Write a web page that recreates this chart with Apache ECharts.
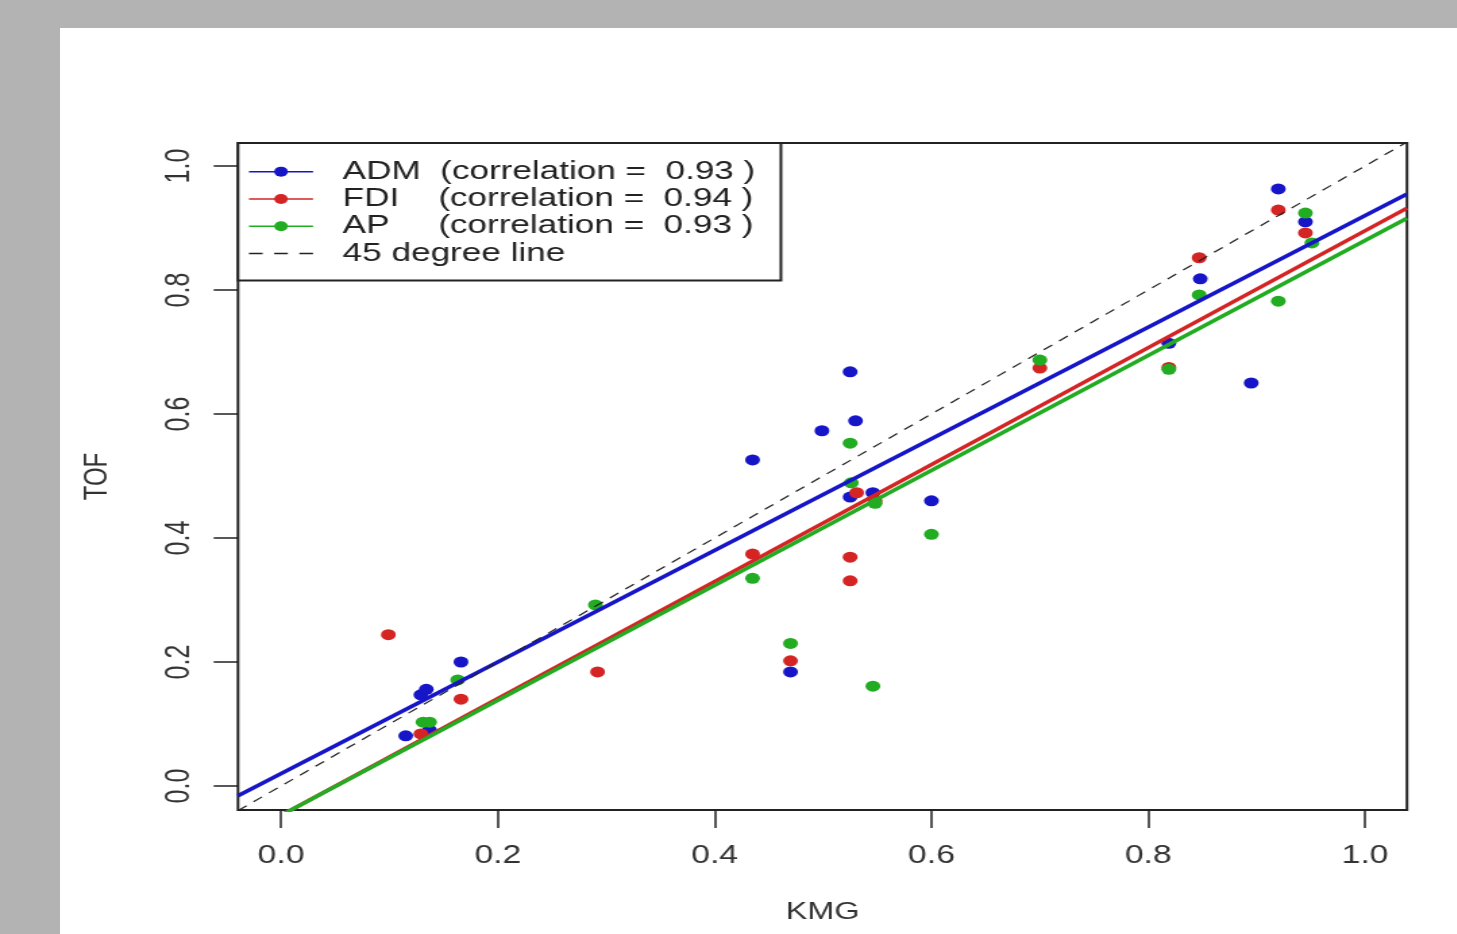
<!DOCTYPE html>
<html><head><meta charset="utf-8">
<script src="https://cdn.jsdelivr.net/npm/echarts@6/dist/echarts.min.js"></script>
<style>
html,body{margin:0;padding:0;width:1457px;height:934px;overflow:hidden;background:#b3b3b3;}
#panel{position:absolute;left:60px;top:28px;right:0;bottom:0;background:#fff;}
#chart{position:absolute;left:0;top:0;width:1080px;height:934px;transform:scaleX(1.35);transform-origin:0 0;}
</style></head><body>
<div id="panel"></div><div id="chart"></div>
<script>
// ---- data ----
const seriesNames = ['ADM  (correlation =  0.93 )', 'FDI    (correlation =  0.94 )', 'AP     (correlation =  0.93 )', '45 degree line'];
const tickValues = [0, 0.2, 0.4, 0.6, 0.8, 1.0];
const xRange = [-0.0397, 1.0387];
const yRange = [-0.0387, 1.0371];

const admX = [0.115, 0.129, 0.134, 0.137, 0.166, 0.435, 0.470, 0.499, 0.525, 0.530, 0.525, 0.546, 0.600, 0.819, 0.848, 0.895, 0.920, 0.945];
const admY = [0.081, 0.147, 0.156, 0.090, 0.200, 0.526, 0.184, 0.573, 0.668, 0.589, 0.466, 0.473, 0.460, 0.714, 0.818, 0.650, 0.963, 0.910];
const fdiX = [0.099, 0.129, 0.166, 0.292, 0.435, 0.470, 0.525, 0.525, 0.531, 0.548, 0.700, 0.819, 0.847, 0.920, 0.945];
const fdiY = [0.244, 0.084, 0.140, 0.184, 0.374, 0.202, 0.369, 0.331, 0.473, 0.460, 0.674, 0.675, 0.852, 0.929, 0.892];
const apX = [0.131, 0.137, 0.163, 0.290, 0.435, 0.470, 0.525, 0.526, 0.546, 0.548, 0.600, 0.700, 0.819, 0.847, 0.920, 0.945, 0.951];
const apY = [0.103, 0.103, 0.171, 0.292, 0.335, 0.230, 0.553, 0.489, 0.161, 0.456, 0.406, 0.687, 0.672, 0.792, 0.782, 0.924, 0.876];

// fitted regression lines: [intercept, slope]
const admFit = [0.020, 0.900];
const fdiFit = [-0.0474, 0.943];
const apFit = [-0.0472, 0.927];
const refLine = [0, 1];

const colors = ['#1616c8', '#d42424', '#22ac22', '#222222'];

// ---- build ----
const zip = (xs, ys) => xs.map((x, i) => [x, ys[i]]);
const fitLine = c => xRange.map(x => [x, c[0] + c[1] * x]);

const FONT = 'Liberation Sans';
const chart = echarts.init(document.getElementById('chart'));

const fitSeries = (name, coef, color) => ({
  type: 'line', name, data: fitLine(coef), color,
  symbol: 'circle', showSymbol: false, silent: true, z: 3,
  lineStyle: { width: 3.5, color }
});
const ptSeries = (name, xs, ys, color) => ({
  type: 'scatter', name, data: zip(xs, ys), color,
  symbol: 'circle', symbolSize: 11, silent: true, z: 2,
  itemStyle: { color, opacity: 1 }
});

const axisCommon = {
  axisLine: { show: false, onZero: false },
  splitLine: { show: false },
  axisTick: { show: true, inside: false, length: 18, customValues: tickValues, lineStyle: { color: '#222', width: 1.5 } }
};

chart.setOption({
  animation: false,
  backgroundColor: 'transparent',
  grid: { left: 176.3, top: 143, width: 865.9, height: 667, show: true, borderColor: '#222', borderWidth: 2, backgroundColor: 'transparent' },
  xAxis: Object.assign({
    type: 'value', min: xRange[0], max: xRange[1],
    name: 'KMG', nameLocation: 'middle', nameGap: 90,
    nameTextStyle: { fontFamily: FONT, fontSize: 24, color: '#333', lineHeight: 24 },
    axisLabel: { customValues: tickValues, formatter: v => v.toFixed(1), fontFamily: FONT, fontSize: 25, lineHeight: 25, color: '#333', margin: 34 }
  }, axisCommon),
  yAxis: Object.assign({
    type: 'value', min: yRange[0], max: yRange[1],
    name: 'TOF', nameLocation: 'middle', nameGap: 92,
    nameTextStyle: { fontFamily: FONT, fontSize: 24, color: '#333', lineHeight: 24 },
    axisLabel: { customValues: tickValues, formatter: v => v.toFixed(1), rotate: 90, fontFamily: FONT, fontSize: 25, lineHeight: 25, color: '#333', margin: 31 }
  }, axisCommon),
  legend: {
    orient: 'vertical', left: 176.3, top: 143,
    padding: [15, 19, 13.4, 7.4],
    itemWidth: 47.4, itemHeight: 12.5, itemGap: 0,
    backgroundColor: '#fff', borderColor: '#222', borderWidth: 2, borderRadius: 0,
    lineStyle: { width: 1.5 },
    selectedMode: false,
    textStyle: { fontFamily: FONT, fontSize: 26, lineHeight: 27.3, color: '#222', padding: [0, 0, 0, 17] },
    data: [
      { name: seriesNames[0] },
      { name: seriesNames[1] },
      { name: seriesNames[2] },
      { name: seriesNames[3], icon: 'path://M0,5.5h10v1.6h-10z M18.5,5.5h10v1.6h-10z M37,5.5h10v1.6h-10z', itemStyle: { color: '#222' } }
    ]
  },
  series: [
    fitSeries(seriesNames[0], admFit, colors[0]),
    fitSeries(seriesNames[1], fdiFit, colors[1]),
    fitSeries(seriesNames[2], apFit, colors[2]),
    {
      type: 'line', name: seriesNames[3], data: fitLine(refLine), color: colors[3],
      symbol: 'none', silent: true, z: 3,
      lineStyle: { width: 1.2, type: [8, 6.5], color: colors[3] }
    },
    ptSeries(seriesNames[0], admX, admY, colors[0]),
    ptSeries(seriesNames[1], fdiX, fdiY, colors[1]),
    ptSeries(seriesNames[2], apX, apY, colors[2])
  ]
});
</script>
</body></html>
